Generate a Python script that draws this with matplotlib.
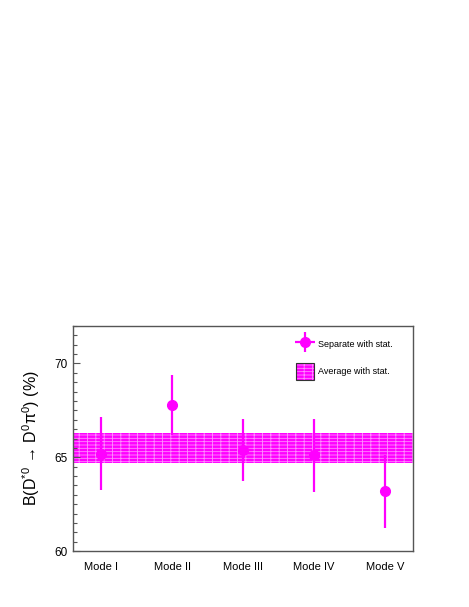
import matplotlib
matplotlib.use("Agg")
import matplotlib.pyplot as plt
from matplotlib.lines import Line2D
from matplotlib.patches import Rectangle
from matplotlib.legend_handler import HandlerTuple
from matplotlib.ticker import MultipleLocator

plt.rcParams["font.family"] = ["Liberation Sans", "DejaVu Sans"]
plt.rcParams["mathtext.fontset"] = "custom"
plt.rcParams["mathtext.rm"] = "Liberation Sans"
plt.rcParams["mathtext.it"] = "Liberation Sans"
plt.rcParams["hatch.linewidth"] = 0.6

modes = ["Mode I", "Mode II", "Mode III", "Mode IV", "Mode V"]
values = [65.2, 67.8, 65.4, 65.1, 63.2]
errors = [1.93, 1.6, 1.65, 1.94, 1.95]

avg_value = 65.5
avg_error = 0.8

magenta = "#ff00ff"
hatch_col = "#ff8cff"
frame_col = "#555555"
band_hatch = "||-----"

fig = plt.figure(figsize=(4.69, 6.07), dpi=100)
ax = fig.add_axes([0.156, 0.092, 0.725, 0.371])

x = list(range(1, len(modes) + 1))

# average band over the full width
ax.axhspan(avg_value - avg_error, avg_value + avg_error,
           facecolor=magenta, edgecolor=hatch_col, hatch=band_hatch,
           linewidth=0, zorder=1)

ax.errorbar(x, values, yerr=errors, fmt="o", color=magenta,
            markersize=7, elinewidth=1.6, capsize=0, zorder=3)

ax.set_xlim(0.6, 5.4)
ax.set_ylim(60, 72)

ax.set_xticks(x)
ax.set_xticklabels(modes, fontsize=8)
ax.tick_params(axis="x", length=0, pad=8)

ax.yaxis.set_major_locator(MultipleLocator(5))
ax.yaxis.set_minor_locator(MultipleLocator(0.5))
ax.tick_params(axis="y", which="major", direction="in", length=5,
               width=0.8, color=frame_col, labelsize=8.5, pad=4)
ax.tick_params(axis="y", which="minor", direction="in", length=3,
               width=0.8, color=frame_col)

for s in ax.spines.values():
    s.set_color(frame_col)
    s.set_linewidth(1.0)

ax.set_ylabel("B(D$^{*0}$ \u2192 D$^{0}$\u03c0$^{0}$) (%)",
              fontsize=11.5, labelpad=9)

# legend
h_sep = (Line2D([], [], marker="+", color=magenta, linestyle="none",
                markersize=15, markeredgewidth=1.6),
         Line2D([], [], marker="o", color=magenta, linestyle="none",
                markersize=7))
h_avg = (Rectangle((0, 0), 1, 1, facecolor=magenta, edgecolor=hatch_col,
                   hatch=band_hatch, linewidth=0),
         Rectangle((0, 0), 1, 1, facecolor="none", edgecolor="#333333",
                   linewidth=0.8))
ax.legend([h_sep, h_avg], ["Separate with stat.", "Average with stat."],
          handler_map={tuple: HandlerTuple(ndivide=1, pad=0)},
          loc="upper left", bbox_to_anchor=(0.656, 0.955),
          frameon=False, fontsize=6.5, handlelength=2.0, handleheight=2.5,
          handletextpad=0.4, labelspacing=1.1, borderpad=0,
          borderaxespad=0)

fig.savefig("out.png", dpi=100)
